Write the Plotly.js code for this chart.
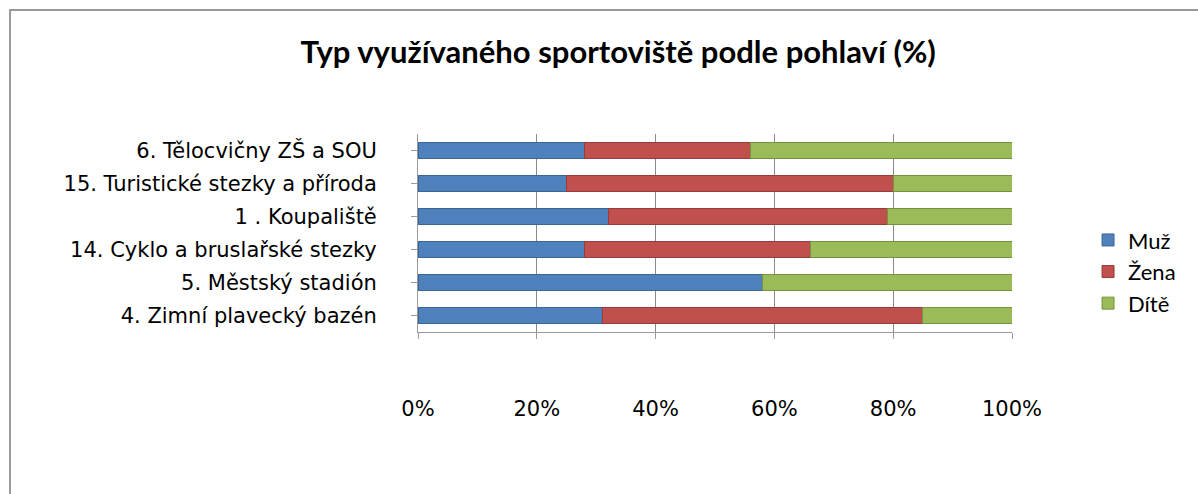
<!DOCTYPE html>
<html>
<head>
<meta charset="utf-8">
<script src="https://cdn.plot.ly/plotly-3.0.1.min.js"></script>
<style>
  html, body { margin: 0; padding: 0; background: #fff; }
  #wrap { position: relative; width: 1198px; height: 494px; overflow: hidden; }
  #chart { position: absolute; left: 0; top: 0; width: 1198px; height: 494px; }
  #frame { position: absolute; left: 9px; top: 9px; width: 1300px; height: 600px;
           border-left: 2px solid #9a9a9a; border-top: 2px solid #9a9a9a; pointer-events: none; }
</style>
</head>
<body>
<div id="wrap">
  <div id="chart"></div>
  <div id="frame"></div>
</div>
<script>
const categories = [
  "6. Tělocvičny ZŠ a SOU",
  "15. Turistické stezky a příroda",
  "1 . Koupaliště",
  "14. Cyklo a bruslařské stezky",
  "5. Městský stadión",
  "4. Zimní plavecký bazén"
];
const muz  = [28, 25, 32, 28, 58, 31];
const zena = [28, 55, 47, 38, 0, 54];
const dite = [44, 20, 21, 34, 42, 15];
const seriesNames = ["Muž", "Žena", "Dítě"];
const seriesColors = ["#4F81BD", "#C0504D", "#9BBB59"];
const lineColors = ["#3A6597", "#963C3A", "#77923F"];
const xTickVals = [0, 20, 40, 60, 80, 100];
const xTickText = ["0%", "20%", "40%", "60%", "80%", "100%"];

const seriesValues = [muz, zena, dite];
const traces = seriesValues.map((vals, i) => ({
  type: "bar",
  orientation: "h",
  name: seriesNames[i],
  x: vals,
  y: categories,
  marker: { color: seriesColors[i], line: { color: lineColors[i], width: 1 } },
  legendgroup: "g" + i,
  hoverinfo: "x+y+name"
}));

const titleFont = "Lato, 'Open Sans', 'Liberation Sans', sans-serif";
const font = "'DejaVu Sans', 'Open Sans', sans-serif";
const layout = {
  width: 1198,
  height: 494,
  margin: { l: 418, r: 186, t: 134, b: 162 },
  paper_bgcolor: "#ffffff",
  plot_bgcolor: "#ffffff",
  barmode: "stack",
  bargap: 0.5,
  title: {
    text: "<b>Typ využívaného sportoviště podle pohlaví (%)</b>",
    font: { family: titleFont, size: 31, color: "#000" },
    x: 0.516, xanchor: "center", xref: "container",
    y: 0.895, yanchor: "middle", yref: "container"
  },
  xaxis: {
    range: [0, 100],
    tickvals: xTickVals,
    ticktext: xTickText,
    showgrid: true,
    gridcolor: "#8a8a8a",
    gridwidth: 1,
    zeroline: false,
    showline: true,
    linecolor: "#9a9a9a",
    ticks: "outside",
    ticklen: 6,
    tickcolor: "#9a9a9a",
    ticklabelstandoff: 52,
    tickfont: { family: font, size: 21, color: "#000" },
    fixedrange: true
  },
  yaxis: {
    autorange: "reversed",
    type: "category",
    showgrid: false,
    showline: true,
    linecolor: "#9a9a9a",
    ticks: "outside",
    ticklen: 6,
    tickcolor: "#9a9a9a",
    ticklabelstandoff: 30,
    tickfont: { family: font, size: 21, color: "#000" },
    fixedrange: true
  },
  legend: {
    x: 1.128, xanchor: "left",
    y: 0.57, yanchor: "top",
    traceorder: "normal",
    tracegroupgap: 10,
    font: { family: titleFont, size: 22, color: "#000" },
    bgcolor: "rgba(0,0,0,0)"
  },
  showlegend: true
};

Plotly.newPlot("chart", traces, layout, { displayModeBar: false, staticPlot: true });
</script>
</body>
</html>
